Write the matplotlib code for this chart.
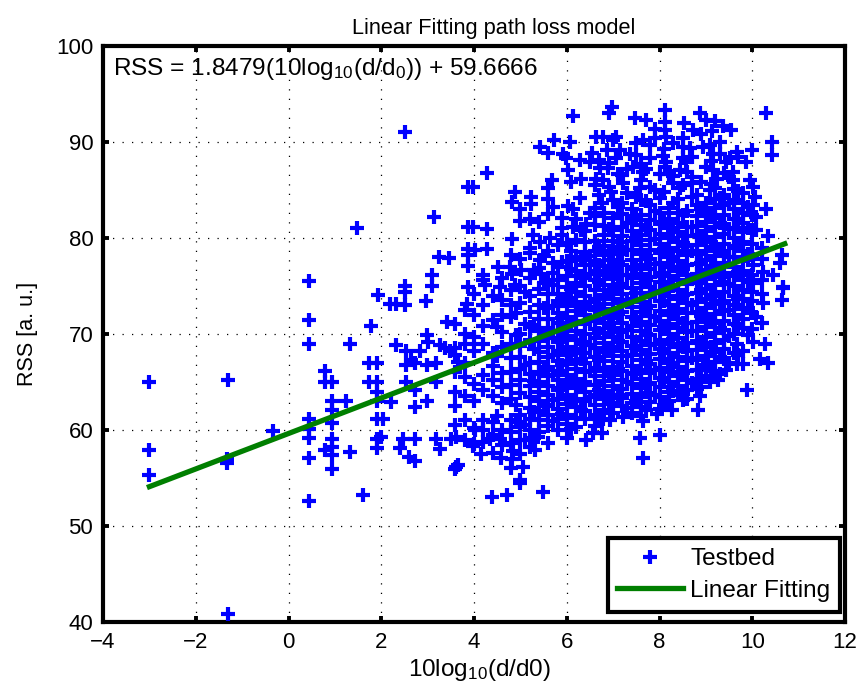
import numpy as np
import matplotlib
matplotlib.use('Agg')
import matplotlib.pyplot as plt

plt.rcParams['font.family'] = ['Liberation Sans', 'DejaVu Sans']
plt.rcParams['mathtext.default'] = 'regular'

# isolated points on the left of the cloud, read one by one
left_x = [-3, -3, -3, -1.3, -1.33, -1.33, -1.3, -0.34, 0.45, 0.45, 0.45, 0.45, 0.45, 0.45, 0.45, 0.45,
          0.78, 0.78, 0.78, 0.93, 0.93, 0.93, 0.93, 0.93, 0.93, 0.93, 0.93, 1.23, 1.33, 1.33, 1.47,
          1.6, 1.74, 1.74, 1.78, 1.91, 1.91, 1.91, 1.91, 1.91, 1.91, 1.91, 1.94, 2.0, 2.04, 2.19, 2.22,
          2.31, 2.31, 2.4, 2.47, 2.52, 2.52, 2.52, 2.52, 2.53, 2.53, 2.53, 2.6, 2.65, 2.72, 2.72, 2.72,
          2.72, 2.72, 2.83, 2.96, 2.98, 2.98, 2.98, 3.01, 3.1, 3.1, 3.13, 3.19, 3.19, 3.19, 3.25, 3.26,
          3.26, 3.37, 3.41, 3.45, 3.48, 3.51, 3.59, 3.59, 3.62, 3.62, 3.66, 3.66, 3.8, 3.84, 3.87, 3.87,
          3.87, 3.87, 3.87, 3.87]
left_y = [65, 57.9, 55.3, 65.2, 57, 56.6, 40.8, 59.9, 75.55, 71.46, 68.96, 61.1, 60.07, 59.2, 57.1, 52.65,
          66.1, 65.04, 57.9, 65.04, 63.06, 62.1, 60.77, 59.1, 58.2, 57.4, 55.9, 63.06, 68.96, 57.7, 81,
          53.2, 67, 65.04, 70.8, 67, 65.04, 64, 63, 61.2, 59.1, 58.1, 74.06, 59.3, 61.2, 73.1, 62.95,
          73.1, 68.9, 58.1, 59.1, 91.04, 75, 74.4, 73, 66.8, 65.04, 68.27, 57.2, 67.3, 67, 64.17, 62.4,
          59.1, 56.8, 68.2, 73.4, 69.9, 66.8, 63.06, 69.2, 76.2, 75, 82.15, 66.95, 65.04, 59.1, 78.05, 68.9,
          58, 68.5, 71.3, 77.9, 68.2, 59.1, 67.8, 55.9, 59.3, 56.2, 67.1, 56.4, 69, 73.1, 85.35, 81.2,
          78.9, 78.2, 77.1, 74.9]

# outline of the cloud: upper edge
top_x = [3.97, 3.97, 4.02, 4.2, 4.23, 4.27, 4.27, 4.27, 4.52, 4.56, 4.77, 4.81, 4.81, 4.81, 4.88, 4.88,
         4.99, 5.02, 5.2, 5.22, 5.22, 5.27, 5.42, 5.42, 5.42, 5.45, 5.6, 5.6, 5.6, 5.63, 5.69, 5.71, 5.73,
         5.89, 5.89, 5.92, 5.99, 6.03, 6.03, 6.06, 6.14, 6.14, 6.14, 6.28, 6.28, 6.41, 6.55, 6.6, 6.6, 6.63,
         6.64, 6.71, 6.75, 6.78, 6.78, 6.86, 6.89, 6.91, 6.96, 6.98, 7.0, 7.07, 7.07, 7.14, 7.21, 7.36, 7.43,
         7.47, 7.5, 7.57, 7.61, 7.65, 7.65, 7.7, 7.79, 7.79, 7.79, 7.9, 8.0, 8.08, 8.11, 8.11, 8.11, 8.11,
         8.15, 8.15, 8.29, 8.29, 8.44, 8.44, 8.51, 8.51, 8.52, 8.58, 8.65, 8.69, 8.72, 8.87, 8.94, 9.01, 9.08,
         9.08, 9.14, 9.15, 9.15, 9.19, 9.23, 9.3, 9.37, 9.44, 9.51, 9.55, 9.59, 9.59, 9.66, 9.8, 9.86, 9.94,
         9.99, 10.02, 10.02, 10.05, 10.09, 10.09, 10.3, 10.3, 10.34, 10.43, 10.43]
top_y = [85.35, 81.2, 78.75, 76.15, 75.1, 86.8, 80.95, 78.9, 77, 74.9, 77, 83.8, 79.9, 76.3, 84.8, 75.1,
         83, 76.7, 78.4, 84.3, 83.55, 80.3, 89.5, 79.6, 77.7, 76.3, 88.9, 85.2, 84.1, 80, 86, 77.4, 90.2,
         82.05, 81, 88.8, 88.3, 87.1, 83.3, 90.04, 92.7, 83, 81.1, 88.1, 84.2, 81.5, 88.9, 85.5, 83.1, 90.56,
         86.2, 87.25, 83.6, 90.56, 86, 89.2, 87.25, 93.06, 84.8, 93.7, 90.2, 90.56, 88.3, 89.2, 85.75, 88.8, 87.4,
         92.5, 88.65, 85.2, 86, 90.2, 86.9, 92.3, 89.7, 88.3, 85.35, 91.4, 86.7, 88.5, 93.3, 92.1, 91.25, 87.4,
         90.56, 87.95, 89.9, 85.7, 87.1, 85.2, 89.5, 88.3, 91.95, 87.95, 89.35, 85.7, 91.25, 93.06, 89.5, 92.3, 89.7,
         85, 91.1, 88.8, 87.1, 92.2, 86.2, 90.04, 91.7, 87.95, 88.3, 91.25, 86.9, 86, 89, 84.65, 87.95, 86,
         89.2, 85.35, 83.4, 84.3, 82.2, 80.8, 93.06, 83, 80.2, 90.04, 88.6]

# outline of the cloud: right and lower edge
low_x = [3.98, 4.02, 4.16, 4.34, 4.38, 4.56, 4.59, 4.71, 4.81, 4.84, 4.99, 4.99, 5.05, 5.1, 5.31, 5.38, 5.48,
         6.41, 6.57, 6.75, 6.78, 6.93, 7.21, 7.57, 7.65, 7.65, 7.95, 8.0, 8.26, 8.51, 8.83, 8.87, 9.05, 9.08,
         9.26, 9.44, 9.66, 9.66, 9.8, 9.8, 9.89, 10.02, 10.02, 10.02, 10.09, 10.16, 10.23, 10.23, 10.27, 10.34,
         10.45, 10.6, 10.63, 10.63, 10.66, 10.66]
low_y = [58.3, 60, 57.5, 59.1, 53, 59.1, 57.1, 53.2, 57, 57.8, 54.8, 54.5, 56.1, 59, 57.9, 59.3, 53.5,
         59, 59.65, 59.65, 61.2, 61, 61.4, 59.2, 60.9, 57.1, 61.7, 59.5, 62.1, 63.1, 62.1, 63.5, 66.9, 65,
         65.2, 66.25, 66.9, 69, 66.9, 70.6, 64.2, 69.2, 75.3, 77.2, 71.8, 67.4, 73.2, 76.5, 69, 67,
         76.15, 77.4, 78.2, 73.5, 74.75, 74.9]

# body of the cloud, the distances come in columns
col_x = [3.6, 3.8, 4.0, 4.2, 4.4, 4.6, 4.8, 5.0, 5.2, 5.4, 5.6, 5.8, 6.0, 6.2, 6.4, 6.6, 6.8, 7.0, 7.2, 7.4,
         7.6, 7.8, 8.0, 8.2, 8.4, 8.6, 8.8, 9.0, 9.2, 9.4, 9.6, 9.8, 10.0, 10.2]
col_rss = [
    [60.5, 62.5, 64, 66, 68.5, 71],
    [59, 61, 63.5, 65.5, 67, 70, 72.5],
    [58.5, 60.2, 63, 64.8, 68.2, 69.7, 72, 74.2],
    [58.8, 60, 61, 64.2, 65.7, 69, 70.8, 73, 75.6],
    [57.6, 59.5, 60.8, 63.5, 65.2, 66.7, 68, 71.5, 74],
    [58.4, 60, 62.8, 64.5, 65.9, 68.6, 70.2, 72, 73.5, 75.8],
    [56, 58.6, 59.8, 61, 63.2, 64.7, 66, 67.5, 69, 71.8, 73, 74.6, 78.2],
    [57.5, 59, 60.3, 61.6, 63.9, 65.2, 66.4, 67.6, 68.8, 70, 73.2, 75, 77.8, 81.8],
    [58.2, 60, 61.2, 62.3, 63.4, 64.6, 65.8, 67, 69.4, 70.7, 72.3, 74, 75.8, 79, 82],
    [59.8, 61, 62, 63, 64, 65, 66, 67.1, 68.1, 69.3, 70.3, 71.6, 73, 74.7, 76.9, 81.7],
    [58.7, 60.4, 61.6, 62.6, 63.6, 64.6, 65.6, 66.6, 67.6, 68.6, 69.6, 70.6, 71.6, 72.8, 74.2, 75.6, 78.7, 82.5],
    [60, 61.2, 62.2, 63.2, 64.2, 65.2, 66.2, 67.2, 68.2, 69.2, 70.2, 71.2, 72.2, 73.2, 74.2, 75.6, 77, 79.3],
    [59.2, 60.6, 61.6, 62.7, 63.7, 64.8, 65.7, 66.9, 67.8, 68.7, 69.8, 70.9, 71.8, 72.9, 73.8, 74.9, 76, 77.6, 79.5],
    [60.3, 61.3, 62.4, 63.2, 64.4, 65.3, 66.4, 67.3, 68.4, 69.4, 70.3, 71.4, 72.4, 73.3, 74.4, 75.3, 76.6, 78, 79.8, 82],
    [61.1, 62, 63, 64, 65, 66, 67, 68, 69, 70, 71, 72, 73, 74, 75, 76.1, 77.2, 78.5, 79.6, 80.7],
    [60.4, 61.6, 62.6, 63.6, 64.7, 65.6, 66.5, 67.6, 68.5, 69.6, 70.5, 71.6, 72.5, 73.6, 74.6, 75.6, 76.6, 77.6, 78.6, 79.7, 81.4, 82.3],
    [62.1, 63.2, 64.1, 65.1, 66.1, 67.2, 68.1, 69.1, 70.1, 71.1, 72.1, 73.1, 74.1, 75.1, 76.1, 77.1, 78.2, 79.2, 80.3, 81.3, 82.6],
    [61.8, 62.7, 63.7, 64.6, 65.7, 66.6, 67.7, 68.6, 69.7, 70.6, 71.7, 72.6, 73.7, 74.6, 75.7, 76.6, 77.7, 78.7, 79.7, 80.8, 82.1, 84],
    [62.5, 63.3, 64.3, 65.2, 66.2, 67.1, 68.2, 69.2, 70.2, 71.2, 72.3, 73.2, 74.2, 75.2, 76.2, 77.2, 78.3, 79.1, 80.2, 81.2, 82.5, 83.7, 86.6],
    [61.8, 62.8, 63.8, 64.8, 65.8, 66.7, 67.8, 68.8, 69.7, 70.8, 71.8, 72.8, 73.7, 74.8, 75.8, 76.8, 77.7, 78.8, 79.7, 80.7, 81.9, 83],
    [61.5, 62.4, 63.4, 64.4, 65.3, 66.3, 67.3, 68.3, 69.3, 70.3, 71.3, 72.3, 73.3, 74.3, 75.3, 76.3, 77.2, 78.3, 79.3, 80.3, 81.4, 82.4, 84, 87.7],
    [62.9, 63.9, 64.9, 65.9, 66.9, 67.9, 68.9, 69.9, 70.9, 71.9, 72.9, 73.9, 74.9, 75.9, 76.8, 77.8, 78.8, 79.8, 80.8, 81.9, 83.4],
    [62.2, 63.4, 64.5, 65.4, 66.5, 67.4, 68.4, 69.4, 70.4, 71.4, 72.4, 73.4, 74.4, 75.4, 76.4, 77.4, 78.4, 79.4, 80.4, 81.5, 82.6, 84.2],
    [63, 64, 65, 66, 67, 68, 69, 70, 71, 72, 73, 74, 75, 76, 77, 78, 79, 80, 81, 82, 83.1, 86.7],
    [63.6, 64.6, 65.6, 66.6, 67.6, 68.6, 69.6, 70.6, 71.6, 72.6, 73.6, 74.6, 75.6, 76.6, 77.6, 78.6, 79.6, 80.6, 81.6, 82.6, 84.1],
    [63.2, 64.2, 65.2, 66.2, 67.2, 68.2, 69.1, 70.2, 71.2, 72.2, 73.2, 74.2, 75.2, 76.2, 77.2, 78.2, 79.2, 80.2, 81.2, 82.8, 86.9],
    [64.3, 65.3, 66.3, 67.3, 68.3, 69.3, 70.3, 71.3, 72.3, 73.3, 74.3, 75.3, 76.3, 77.3, 78.3, 79.3, 80.3, 81.3, 82.3, 83.4, 84.5],
    [65.6, 66.7, 67.7, 68.7, 69.7, 70.7, 71.7, 72.7, 73.7, 74.7, 75.7, 76.7, 77.7, 78.7, 79.7, 80.7, 81.7, 82.7, 83.7, 87.4],
    [66.2, 67.1, 68.1, 69.1, 70.1, 71.1, 72.1, 73.1, 74.1, 75.1, 76.1, 77.1, 78.1, 79.1, 80.1, 81.1, 82.1, 83.1, 84.1, 85.2],
    [67.4, 68.4, 69.4, 70.4, 71.4, 72.4, 73.4, 74.4, 75.4, 76.4, 77.4, 78.4, 79.4, 80.4, 81.4, 82.4, 83.4, 84.5, 86.8],
    [68, 70, 71, 72, 73, 74, 75, 76, 77, 78, 79, 80, 81, 82, 83, 84, 85.1],
    [68.2, 71.6, 72.6, 73.6, 74.6, 75.6, 76.6, 77.6, 78.6, 79.6, 80.6, 81.6, 82.6, 83.6],
    [70.5, 72.2, 73.4, 74.4, 76.2, 78.2, 79.4, 80.8, 82.4],
    [71.2, 74.2, 75.6, 77.8, 79],
]

# points between the columns, these break up the stripes
gap_x = [4.5, 4.9, 5.1, 5.3, 5.5, 5.7, 5.9, 6.1, 6.3, 6.5, 6.7, 6.9, 7.1, 7.3, 7.5, 7.7, 7.9, 8.1, 8.3, 8.5,
         8.7, 8.9, 9.1, 9.3, 9.5, 9.7, 9.9]
gap_rss = [
    [61.5, 67.7, 70.7],
    [60.8, 62.6, 69.9, 72.2],
    [60.5, 66.8, 71, 74.4],
    [59.2, 61.9, 65.1, 68.4, 70.9, 76.7],
    [62.5, 66.3, 70, 72.7, 75.3, 78.1],
    [60.9, 63.1, 65.7, 67.8, 70.3, 72.9, 75.1, 76.4, 83.2],
    [61.7, 64.4, 66.8, 69.6, 71.7, 73.6, 77.5, 80.3],
    [60.1, 62.9, 65.1, 68, 71.2, 74.7, 76.8, 78.6, 85.8],
    [62.1, 64.7, 67.4, 69.2, 72.6, 75.8, 77.7, 80.8, 86.1],
    [63.4, 66.1, 68.9, 71.4, 73.3, 76.3, 78.1, 82.6, 87.9],
    [61.2, 64.2, 67.3, 70.1, 72.8, 75.4, 77.2, 79.1, 84.5, 88.1],
    [62.8, 65.6, 68.2, 71, 74.2, 76.8, 78.7, 80.9, 85.3, 87.8],
    [63.6, 66.4, 69.3, 72.1, 74.9, 77.5, 79.6, 83.2, 86.7],
    [62.3, 65, 67.7, 70.4, 73.5, 76.1, 78.8, 81.6, 84.7, 87.2],
    [63, 65.9, 68.5, 71.6, 74.3, 77, 80, 82.3, 84.3, 89.9],
    [62.1, 64.8, 67.2, 70, 72.7, 75.6, 78.1, 81, 83.9, 87.2],
    [63.7, 66.3, 69, 71.8, 74.5, 77.3, 79.9, 82.8, 85, 90.4],
    [62.6, 65.2, 68, 70.7, 73.4, 76, 78.9, 81.7, 84.8, 89.3],
    [64.1, 66.8, 69.5, 72.4, 75, 77.7, 80.6, 83.6, 86.5],
    [63.8, 65.9, 68.6, 71.2, 74.1, 76.8, 79.5, 82.4, 85.5, 90.4],
    [64.9, 67.5, 70.3, 73, 75.7, 78.6, 81.2, 84.3, 86.4, 88.4],
    [64.5, 66.3, 69.1, 71.9, 74.6, 77.4, 80.1, 83, 85.8, 90.8],
    [66.1, 68.7, 71.4, 74, 76.9, 79.6, 82.3, 85.6, 88],
    [65.8, 67.6, 70.6, 73.2, 75.9, 78.7, 81.6, 84.2, 88.8],
    [67, 69.8, 72.5, 75.2, 78, 80.9, 83.7, 86.4],
    [67.8, 70.9, 73.7, 76.5, 79.2, 82, 84.9, 88.4],
    [69.9, 72.7, 75.4, 78.3, 81, 83.2],
]

fit_x = [-3, 10.7]
fit_y = [54.1, 79.4]

x_ticks = [-4, -2, 0, 2, 4, 6, 8, 10, 12]
y_ticks = [40, 50, 60, 70, 80, 90, 100]

cloud_x = np.repeat(col_x, [len(c) for c in col_rss])
cloud_y = np.concatenate(col_rss)
fill_x = np.repeat(gap_x, [len(c) for c in gap_rss])
fill_y = np.concatenate(gap_rss)
all_x = np.concatenate([left_x, top_x, low_x, cloud_x, fill_x])
all_y = np.concatenate([left_y, top_y, low_y, cloud_y, fill_y])

fig = plt.figure(figsize=(8.6, 6.88), dpi=100)
ax = fig.add_axes([0.1198, 0.0959, 0.8628, 0.8372])

ax.plot(all_x, all_y, '+', color='#0000ff', ms=9.5, mew=3.0, label='Testbed', zorder=3)
ax.plot(fit_x, fit_y, '-', color='#007f00', lw=3.8, label='Linear Fitting', zorder=4)

ax.set_xlim(-4, 12)
ax.set_ylim(40, 100)
ax.set_xticks(x_ticks)
ax.set_yticks(y_ticks)
ax.grid(True, color='black', linestyle=(0, (1, 6.6)), linewidth=0.9)
ax.set_axisbelow(True)
ax.tick_params(direction='in', length=4.5, width=2.8, labelsize=16, top=True, right=True, pad=7)
for s in ax.spines.values():
    s.set_linewidth(3)

ax.set_title('Linear Fitting path loss model', fontsize=15.7, pad=9, x=0.527)
ax.set_xlabel('10log$_{10}$(d/d0)', fontsize=17.5, labelpad=3, x=0.507)
ax.set_ylabel('RSS [a. u.]', fontsize=15.5, labelpad=13)
ax.text(-3.78, 97.6, 'RSS = 1.8479(10log$_{10}$(d/d$_0$)) + 59.6666', fontsize=17.6, va='center', ha='left')

leg = ax.legend(loc='lower right', bbox_to_anchor=(0.9935, 0.018), fontsize=17.5, fancybox=False,
                framealpha=1, edgecolor='black', handlelength=2.7, borderaxespad=0, numpoints=1,
                labelspacing=0.4, handletextpad=0.3, borderpad=0.4)
leg.get_frame().set_linewidth(3)

plt.savefig('out.png', dpi=100)
